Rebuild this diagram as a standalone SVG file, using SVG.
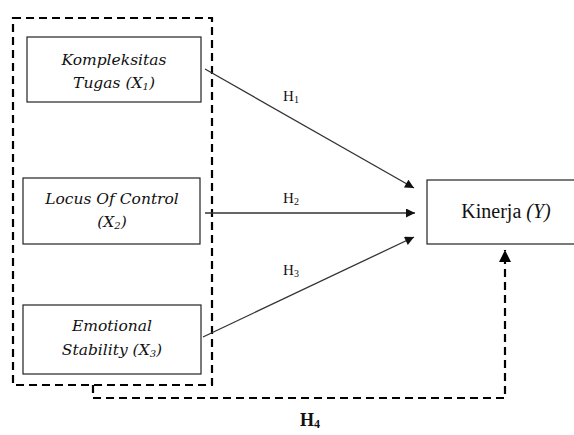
<svg xmlns="http://www.w3.org/2000/svg" width="574" height="435" viewBox="0 0 574 435">
<style>
.box{fill:#fff;stroke:#222;stroke-width:1.2}
.t{font-family:"DejaVu Serif","Liberation Serif",serif;font-style:italic;font-size:15.5px;fill:#111;text-anchor:middle}
.h{font-family:"Liberation Serif",serif;font-size:15px;fill:#111;text-anchor:middle}
.sub{font-size:10px}
.arr{stroke:#333;stroke-width:1.3;fill:none;marker-end:url(#ah)}
.dash{stroke:#000;stroke-width:2.2;fill:none;stroke-dasharray:8,5}
</style>
<defs>
<marker id="ah" viewBox="0 0 10 10" refX="10" refY="5" markerWidth="12" markerHeight="9" markerUnits="userSpaceOnUse" orient="auto"><path d="M0,0L10,5L0,10z" fill="#111"/></marker>
<marker id="ah2" viewBox="0 0 10 10" refX="10" refY="5" markerWidth="14" markerHeight="12" markerUnits="userSpaceOnUse" orient="auto"><path d="M0,0L10,5L0,10z" fill="#000"/></marker>
</defs>
<rect width="574" height="435" fill="#fff"/>
<g id="group-dashed"><rect class="dash" x="13" y="18" width="199" height="367"/></g>
<g id="connectors">
<line class="arr" x1="205" y1="69" x2="414" y2="188"/>
<line class="arr" x1="205" y1="213" x2="415" y2="213"/>
<line class="arr" x1="203" y1="337" x2="414" y2="237"/>
<path class="dash" d="M93,385V398H505V250" marker-end="url(#ah2)"/>
<text class="h" x="291" y="101">H<tspan class="sub" dy="2">1</tspan></text>
<text class="h" x="291" y="203">H<tspan class="sub" dy="2">2</tspan></text>
<text class="h" x="291" y="275">H<tspan class="sub" dy="2">3</tspan></text>
<text class="h" x="310" y="426" style="font-weight:bold;font-size:18px">H<tspan style="font-size:12px" dy="2">4</tspan></text>
</g>
<g id="node-x1"><rect class="box" x="27" y="37" width="174" height="65"/>
<text class="t" x="114" y="65">Kompleksitas</text>
<text class="t" x="114" y="88">Tugas (X<tspan class="sub" dy="2">1</tspan><tspan dy="-2">)</tspan></text></g>
<g id="node-x2"><rect class="box" x="23" y="178" width="177" height="66"/>
<text class="t" x="112" y="204">Locus Of Control</text>
<text class="t" x="112" y="227">(X<tspan class="sub" dy="2">2</tspan><tspan dy="-2">)</tspan></text></g>
<g id="node-x3"><rect class="box" x="23" y="305" width="178" height="69"/>
<text class="t" x="112" y="331">Emotional</text>
<text class="t" x="112" y="355">Stability (X<tspan class="sub" dy="2">3</tspan><tspan dy="-2">)</tspan></text></g>
<g id="node-y"><rect class="box" x="427" y="180" width="150" height="64"/>
<text class="h" x="506" y="218" style="font-size:20px">Kinerja <tspan font-style="italic">(Y)</tspan></text></g>
</svg>
